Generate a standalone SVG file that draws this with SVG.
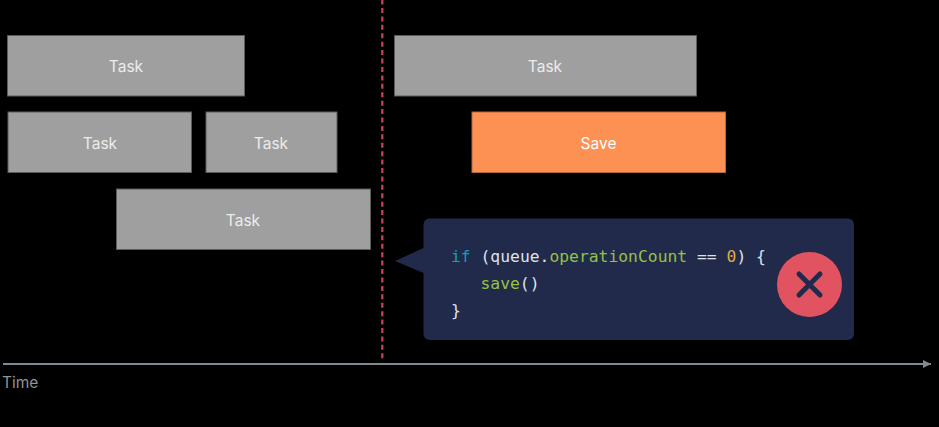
<svg xmlns="http://www.w3.org/2000/svg" width="939" height="427" viewBox="0 0 939 427">
<style>
.task{fill:#9f9f9f;stroke:#5c5c5c;stroke-width:1}
.lbl{font-family:"Inter","Noto Sans","Liberation Sans",sans-serif;font-size:15.5px;fill:#ececec;text-anchor:middle}
.code{font-family:"DejaVu Sans Mono","Liberation Mono",monospace;font-size:16.35px;fill:#dfe2e8;white-space:pre}
.kw{fill:#0f9fbc}.fn{fill:#94c147}.num{fill:#e0a93f}
</style>
<defs>
<marker id="arrow" markerUnits="userSpaceOnUse" markerWidth="9" markerHeight="10" refX="8" refY="5" orient="auto"><path d="M0 1L8 5L0 9z" fill="#7f8993"/></marker>
</defs>
<rect width="939" height="427" fill="#000"/>
<g id="connectors">
<line id="deadline" x1="382.300" y1="-0.400" x2="382.300" y2="359" stroke="#c8455c" stroke-width="2.200" stroke-dasharray="5 3.420"/>
<line id="timeline" x1="3" y1="364" x2="931" y2="364" stroke="#7f8993" stroke-width="2" marker-end="url(#arrow)"/>
</g>
<g id="task1"><rect class="task" x="7.500" y="35.500" width="237" height="60.500"/><text class="lbl" x="126" y="72">Task</text></g>
<g id="task2"><rect class="task" x="8" y="112" width="183.500" height="60.500"/><text class="lbl" x="100" y="149">Task</text></g>
<g id="task3"><rect class="task" x="206" y="112" width="131" height="60.500"/><text class="lbl" x="271" y="149">Task</text></g>
<g id="task4"><rect class="task" x="116.500" y="189" width="254" height="60.500"/><text class="lbl" x="243" y="226">Task</text></g>
<g id="task5"><rect class="task" x="394.500" y="35.500" width="302" height="60.500"/><text class="lbl" x="545" y="72">Task</text></g>
<g id="save"><rect x="472" y="112" width="253.500" height="60.500" fill="#fd9153" stroke="#b3673a"/><text class="lbl" x="598.500" y="149" style="fill:#fff">Save</text></g>
<g id="callout">
<path d="M429 218.500H848a6 6 0 0 1 6 6V334a6 6 0 0 1-6 6H429.500a6 6 0 0 1-6-6V273L395 261L423.500 248V224.500a6 6 0 0 1 6-6z" fill="#212a4b"/>
<text class="code" x="451" y="261.500"><tspan class="kw">if</tspan> (queue.<tspan class="fn">operationCount</tspan> == <tspan class="num">0</tspan>) {</text>
<text class="code" x="480.500" y="288.500"><tspan class="fn">save</tspan>()</text>
<text class="code" x="451" y="315.500">}</text>
</g>
<g id="error">
<circle cx="809.500" cy="284.500" r="32.500" fill="#e25361"/>
<path d="M799 274L820 295M820 274L799 295" stroke="#212a4b" stroke-width="5" stroke-linecap="round" fill="none"/>
</g>
<g id="time-label"><text x="2" y="388" font-family="Inter,'Noto Sans','Liberation Sans',sans-serif" font-size="15.500" fill="#929292">Time</text></g>
</svg>
